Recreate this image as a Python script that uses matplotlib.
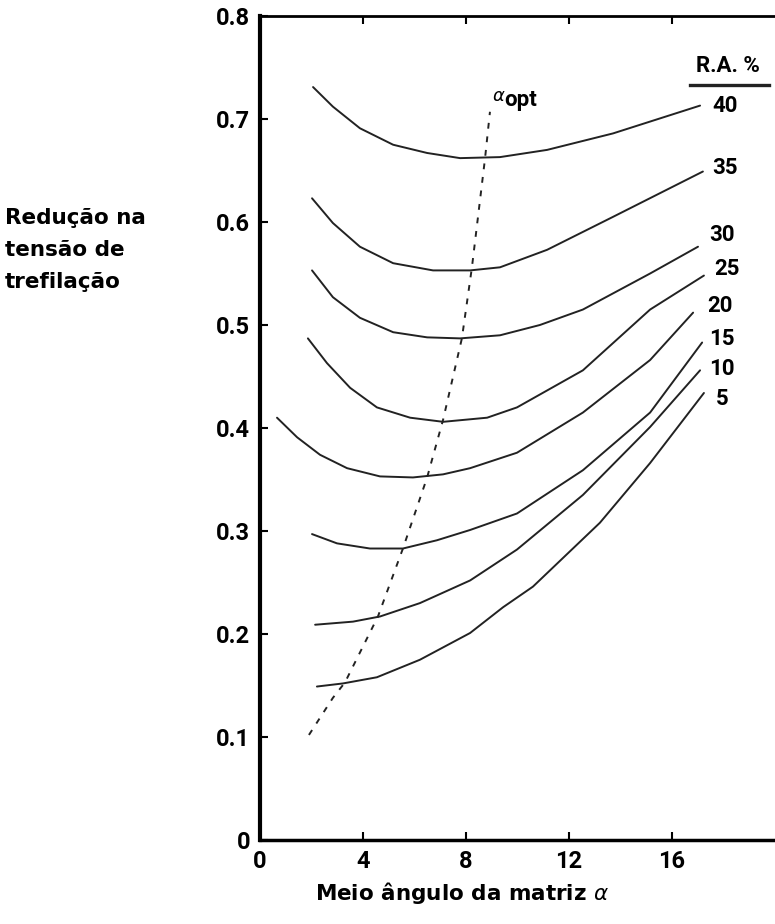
import numpy as np
import matplotlib
matplotlib.use('Agg')
import matplotlib.pyplot as plt

plt.rcParams['font.family'] = ['Roboto', 'DejaVu Sans']

# curves: reduction of area (%) -> (alpha, stress reduction)
ra_labels = ['40', '35', '30', '25', '20', '15', '10', '5']

x40 = [2.06, 2.83, 3.88, 5.17, 6.49, 7.77, 9.32, 11.15, 13.71, 17.09]
y40 = [0.731, 0.712, 0.691, 0.675, 0.667, 0.662, 0.663, 0.670, 0.686, 0.713]

x35 = [2.02, 2.83, 3.88, 5.17, 6.72, 8.16, 9.32, 11.15, 13.71, 17.20]
y35 = [0.623, 0.599, 0.576, 0.560, 0.553, 0.553, 0.556, 0.573, 0.605, 0.649]

x30 = [2.02, 2.83, 3.88, 5.17, 6.49, 7.77, 9.32, 10.87, 12.54, 15.15, 17.01]
y30 = [0.553, 0.527, 0.507, 0.493, 0.488, 0.487, 0.490, 0.500, 0.515, 0.550, 0.576]

x25 = [1.86, 2.60, 3.50, 4.54, 5.83, 7.11, 8.82, 9.98, 12.54, 15.15, 17.24]
y25 = [0.487, 0.463, 0.439, 0.420, 0.410, 0.406, 0.410, 0.420, 0.456, 0.515, 0.548]

x20 = [0.66, 1.44, 2.33, 3.38, 4.66, 5.94, 7.11, 8.16, 9.98, 12.54, 15.15, 16.82]
y20 = [0.410, 0.391, 0.374, 0.361, 0.353, 0.352, 0.355, 0.361, 0.376, 0.415, 0.466, 0.512]

x15 = [2.02, 2.99, 4.27, 5.55, 6.87, 8.16, 9.98, 12.54, 15.15, 17.17]
y15 = [0.297, 0.288, 0.283, 0.283, 0.291, 0.301, 0.317, 0.359, 0.415, 0.483]

x10 = [2.14, 3.61, 4.66, 6.21, 8.16, 9.98, 12.54, 15.15, 17.09]
y10 = [0.209, 0.212, 0.217, 0.230, 0.252, 0.282, 0.335, 0.401, 0.456]

x5 = [2.21, 3.22, 4.54, 6.21, 8.16, 9.44, 10.60, 13.20, 15.15, 17.24]
y5 = [0.149, 0.152, 0.158, 0.175, 0.201, 0.226, 0.246, 0.308, 0.366, 0.434]

# alpha_opt locus
xopt = [1.90, 2.83, 3.30, 4.58, 5.55, 6.49, 7.11, 7.84, 8.23, 8.74, 8.93]
yopt = [0.102, 0.138, 0.153, 0.217, 0.283, 0.352, 0.408, 0.487, 0.556, 0.662, 0.707]

# label positions at the right end of each curve
lab_x = [18.06, 18.06, 17.94, 18.14, 17.86, 17.94, 17.94, 17.94]
lab_y = [0.713, 0.652, 0.587, 0.554, 0.518, 0.486, 0.457, 0.428]

curves_x = [x40, x35, x30, x25, x20, x15, x10, x5]
curves_y = [y40, y35, y30, y25, y20, y15, y10, y5]

fig = plt.figure(figsize=(7.75, 9.24), dpi=100)
ax = fig.add_axes([0.3355, 0.0909, 0.6645, 0.8918])

for cx, cy in zip(curves_x, curves_y):
    ax.plot(cx, cy, color='#222222', lw=1.4, solid_joinstyle='round',
            solid_capstyle='round')

ax.plot(xopt, yopt, color='#222222', lw=1.4, linestyle=(0, (3, 4)))
ax.text(9.0, 0.714, r'$\alpha$', fontsize=13, ha='left', va='bottom')
ax.text(9.5, 0.708, 'opt', fontsize=16, fontweight='bold', ha='left', va='bottom')

for lx, ly, t in zip(lab_x, lab_y, ra_labels):
    ax.text(lx, ly, t, fontsize=16, fontweight='bold', ha='center', va='center')

ax.text(18.17, 0.751, 'R.A. %', fontsize=16, fontweight='bold',
        ha='center', va='center')
ax.plot([16.7, 19.75], [0.733, 0.733], color='#222222', lw=2.4)

ax.set_xlim(0, 20)
ax.set_ylim(0, 0.8)
ax.set_xticks([0, 4, 8, 12, 16])
ax.set_xticklabels(['0', '4', '8', '12', '16'])
ax.set_yticks([0, 0.1, 0.2, 0.3, 0.4, 0.5, 0.6, 0.7, 0.8])
ax.set_yticklabels(['0', '0.1', '0.2', '0.3', '0.4', '0.5', '0.6', '0.7', '0.8'])
ax.tick_params(direction='in', length=6, width=1.5, labelsize=17, top=True,
               pad=7)
for lab in ax.get_xticklabels() + ax.get_yticklabels():
    lab.set_fontweight('bold')

ax.spines['right'].set_visible(False)
ax.spines['left'].set_linewidth(3)
ax.spines['bottom'].set_linewidth(2.5)
ax.spines['top'].set_linewidth(2)

fig.text(0.006, 0.775, 'Redução na\ntensão de\ntrefilação', fontsize=15.5,
         family='DejaVu Sans', fontweight='bold', ha='left', va='top',
         linespacing=1.75)
fig.text(0.596, 0.034, r'Meio ângulo da matriz $\alpha$', fontsize=15.5,
         family='DejaVu Sans', fontweight='bold', ha='center', va='center')

fig.savefig('out.png', dpi=100)
